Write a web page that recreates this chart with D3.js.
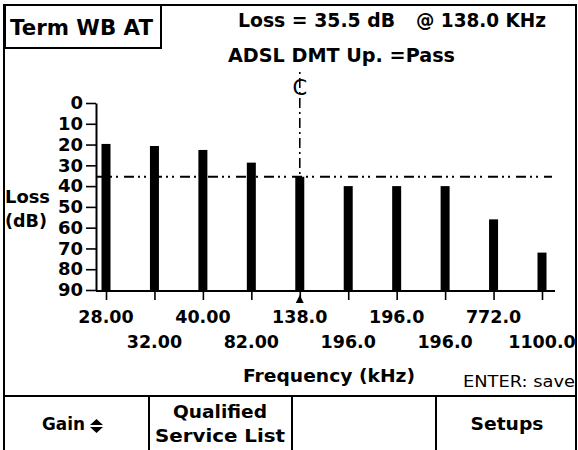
<!DOCTYPE html>
<html><head><meta charset="utf-8">
<script src="https://cdn.jsdelivr.net/npm/d3@7"></script>
<style>
body{margin:0;background:#fff}
svg{display:block}
text{font-family:"DejaVu Sans",Verdana,sans-serif;fill:#000}
</style>
</head><body>
<svg id="c" width="578" height="450"></svg>
<script>
// ---- data ----
const frequencies = ["28.00","32.00","40.00","82.00","138.0","196.0","196.0","196.0","772.0","1100.0"];
const lossDb = [19.7, 20.7, 22.6, 28.7, 35.5, 40, 40, 40, 56, 72];
const yTicks = [0,10,20,30,40,50,60,70,80,90];
const thresholdDb = 35.5;
const cursorIndex = 4;
const modeLabel = "Term WB AT";
const readoutLoss = "Loss = 35.5 dB";
const readoutFreq = "@ 138.0 KHz";
const serviceResult = "ADSL DMT Up. =Pass";
const xTitle = "Frequency (kHz)";
const yTitle = ["Loss", "(dB)"];
const hint = "ENTER: save";
const buttons = ["Gain", ["Qualified","Service List"], "", "Setups"];

// ---- scales ----
const svg = d3.select("#c");
const x = d3.scalePoint().domain(d3.range(frequencies.length)).range([106, 542]);
const y = d3.scaleLinear().domain([0, 90]).range([103, 290]);
const barW = 9;

// outer frame
svg.append("path").attr("d","M4,450 V5 H576 V450").attr("fill","none").attr("stroke","#000").attr("stroke-width",2);

// mode box
svg.append("rect").attr("x",5).attr("y",5).attr("width",156).attr("height",43)
  .attr("fill","none").attr("stroke","#000").attr("stroke-width",2);
svg.append("text").attr("x",10).attr("y",35).attr("font-size",21).attr("font-weight","bold")
  .attr("textLength",143).attr("lengthAdjust","spacingAndGlyphs").text(modeLabel);

// header readout
svg.append("text").attr("x",238).attr("y",27).attr("font-size",20).attr("font-weight","bold")
  .attr("textLength",157).attr("lengthAdjust","spacingAndGlyphs").text(readoutLoss);
svg.append("text").attr("x",416).attr("y",27).attr("font-size",20).attr("font-weight","bold")
  .attr("textLength",130).attr("lengthAdjust","spacingAndGlyphs").text(readoutFreq);
svg.append("text").attr("x",228).attr("y",62).attr("font-size",20).attr("font-weight","bold")
  .attr("textLength",227).attr("lengthAdjust","spacingAndGlyphs").text(serviceResult);

// bars
svg.append("g").selectAll("rect").data(lossDb).join("rect")
  .attr("x",(d,i)=>x(i)-barW/2).attr("y",d=>y(d))
  .attr("width",barW).attr("height",d=>y(90)-y(d)+1).attr("fill","#000");

// y axis
const ya = svg.append("g").attr("transform","translate(96,0)")
  .call(d3.axisLeft(y).tickValues(yTicks).tickSize(10).tickSizeOuter(0).tickPadding(3));
ya.select(".domain").attr("stroke","#000").attr("stroke-width",2);
ya.selectAll(".tick line").attr("stroke","#000").attr("stroke-width",1.6);
ya.selectAll(".tick text").attr("font-family","DejaVu Sans").attr("font-size",18)
  .attr("font-weight","bold").attr("fill","#000");

// x axis
svg.append("line").attr("x1",96).attr("x2",555).attr("y1",y(90)+1).attr("y2",y(90)+1)
  .attr("stroke","#000").attr("stroke-width",2);
const xa = svg.append("g").attr("transform",`translate(0,${y(90)+1})`)
  .call(d3.axisBottom(x).tickSize(9).tickFormat(""));
xa.select(".domain").remove();
xa.selectAll(".tick line").attr("stroke","#000").attr("stroke-width",1.6);
svg.append("g").selectAll("text").data(frequencies).join("text")
  .attr("x",(d,i)=>x(i)).attr("y",(d,i)=> i%2===0 ? 323 : 348)
  .attr("text-anchor","middle").attr("font-size",17.5).attr("font-weight","bold").text(d=>d);

// threshold line
const dash = "10,4,2,4,2,6";
svg.append("line").attr("x1",96).attr("x2",552).attr("y1",y(thresholdDb)).attr("y2",y(thresholdDb))
  .attr("stroke","#000").attr("stroke-width",1.8).attr("stroke-dasharray",dash);

// cursor
const cx = x(cursorIndex);
svg.append("line").attr("x1",cx).attr("x2",cx).attr("y1",72).attr("y2",y(lossDb[cursorIndex]))
  .attr("stroke","#000").attr("stroke-width",1.6).attr("stroke-dasharray","2,4,10,4");
svg.append("text").attr("x",cx).attr("y",95).attr("text-anchor","middle")
  .attr("font-size",21).attr("font-family","DejaVu Serif").text("C");
svg.append("path").attr("d",`M${cx-4},303 L${cx},295 L${cx+4},303 Z`).attr("fill","#000");

// axis titles
svg.append("text").attr("x",5).attr("y",203).attr("font-size",17).attr("font-weight","bold")
  .attr("textLength",45).attr("lengthAdjust","spacingAndGlyphs").text(yTitle[0]);
svg.append("text").attr("x",5).attr("y",227).attr("font-size",17).attr("font-weight","bold")
  .attr("textLength",42).attr("lengthAdjust","spacingAndGlyphs").text(yTitle[1]);
svg.append("text").attr("x",243).attr("y",382).attr("font-size",17).attr("font-weight","bold")
  .attr("textLength",172).attr("lengthAdjust","spacingAndGlyphs").text(xTitle);
svg.append("text").attr("x",463).attr("y",387).attr("font-size",16)
  .attr("textLength",112).attr("lengthAdjust","spacingAndGlyphs").text(hint);

// soft-key bar
svg.append("line").attr("x1",4).attr("x2",576).attr("y1",396).attr("y2",396).attr("stroke","#000").attr("stroke-width",2);
[149,292,436].forEach(v=>svg.append("line").attr("x1",v).attr("x2",v).attr("y1",396).attr("y2",450)
  .attr("stroke","#000").attr("stroke-width",2));
svg.append("text").attr("x",42).attr("y",430).attr("font-size",18).attr("font-weight","bold")
  .attr("textLength",43).attr("lengthAdjust","spacingAndGlyphs").text(buttons[0]);
svg.append("path").attr("d","M90,425 L96.5,419 L103,425 Z M90,427 L96.5,433 L103,427 Z").attr("fill","#000");
svg.append("text").attr("x",220).attr("y",418).attr("text-anchor","middle").attr("font-size",18).attr("font-weight","bold")
  .attr("textLength",94).attr("lengthAdjust","spacingAndGlyphs").text(buttons[1][0]);
svg.append("text").attr("x",220).attr("y",442).attr("text-anchor","middle").attr("font-size",18).attr("font-weight","bold")
  .attr("textLength",130).attr("lengthAdjust","spacingAndGlyphs").text(buttons[1][1]);
svg.append("text").attr("x",507).attr("y",430).attr("text-anchor","middle").attr("font-size",18).attr("font-weight","bold")
  .attr("textLength",73).attr("lengthAdjust","spacingAndGlyphs").text(buttons[3]);
</script>
</body></html>
